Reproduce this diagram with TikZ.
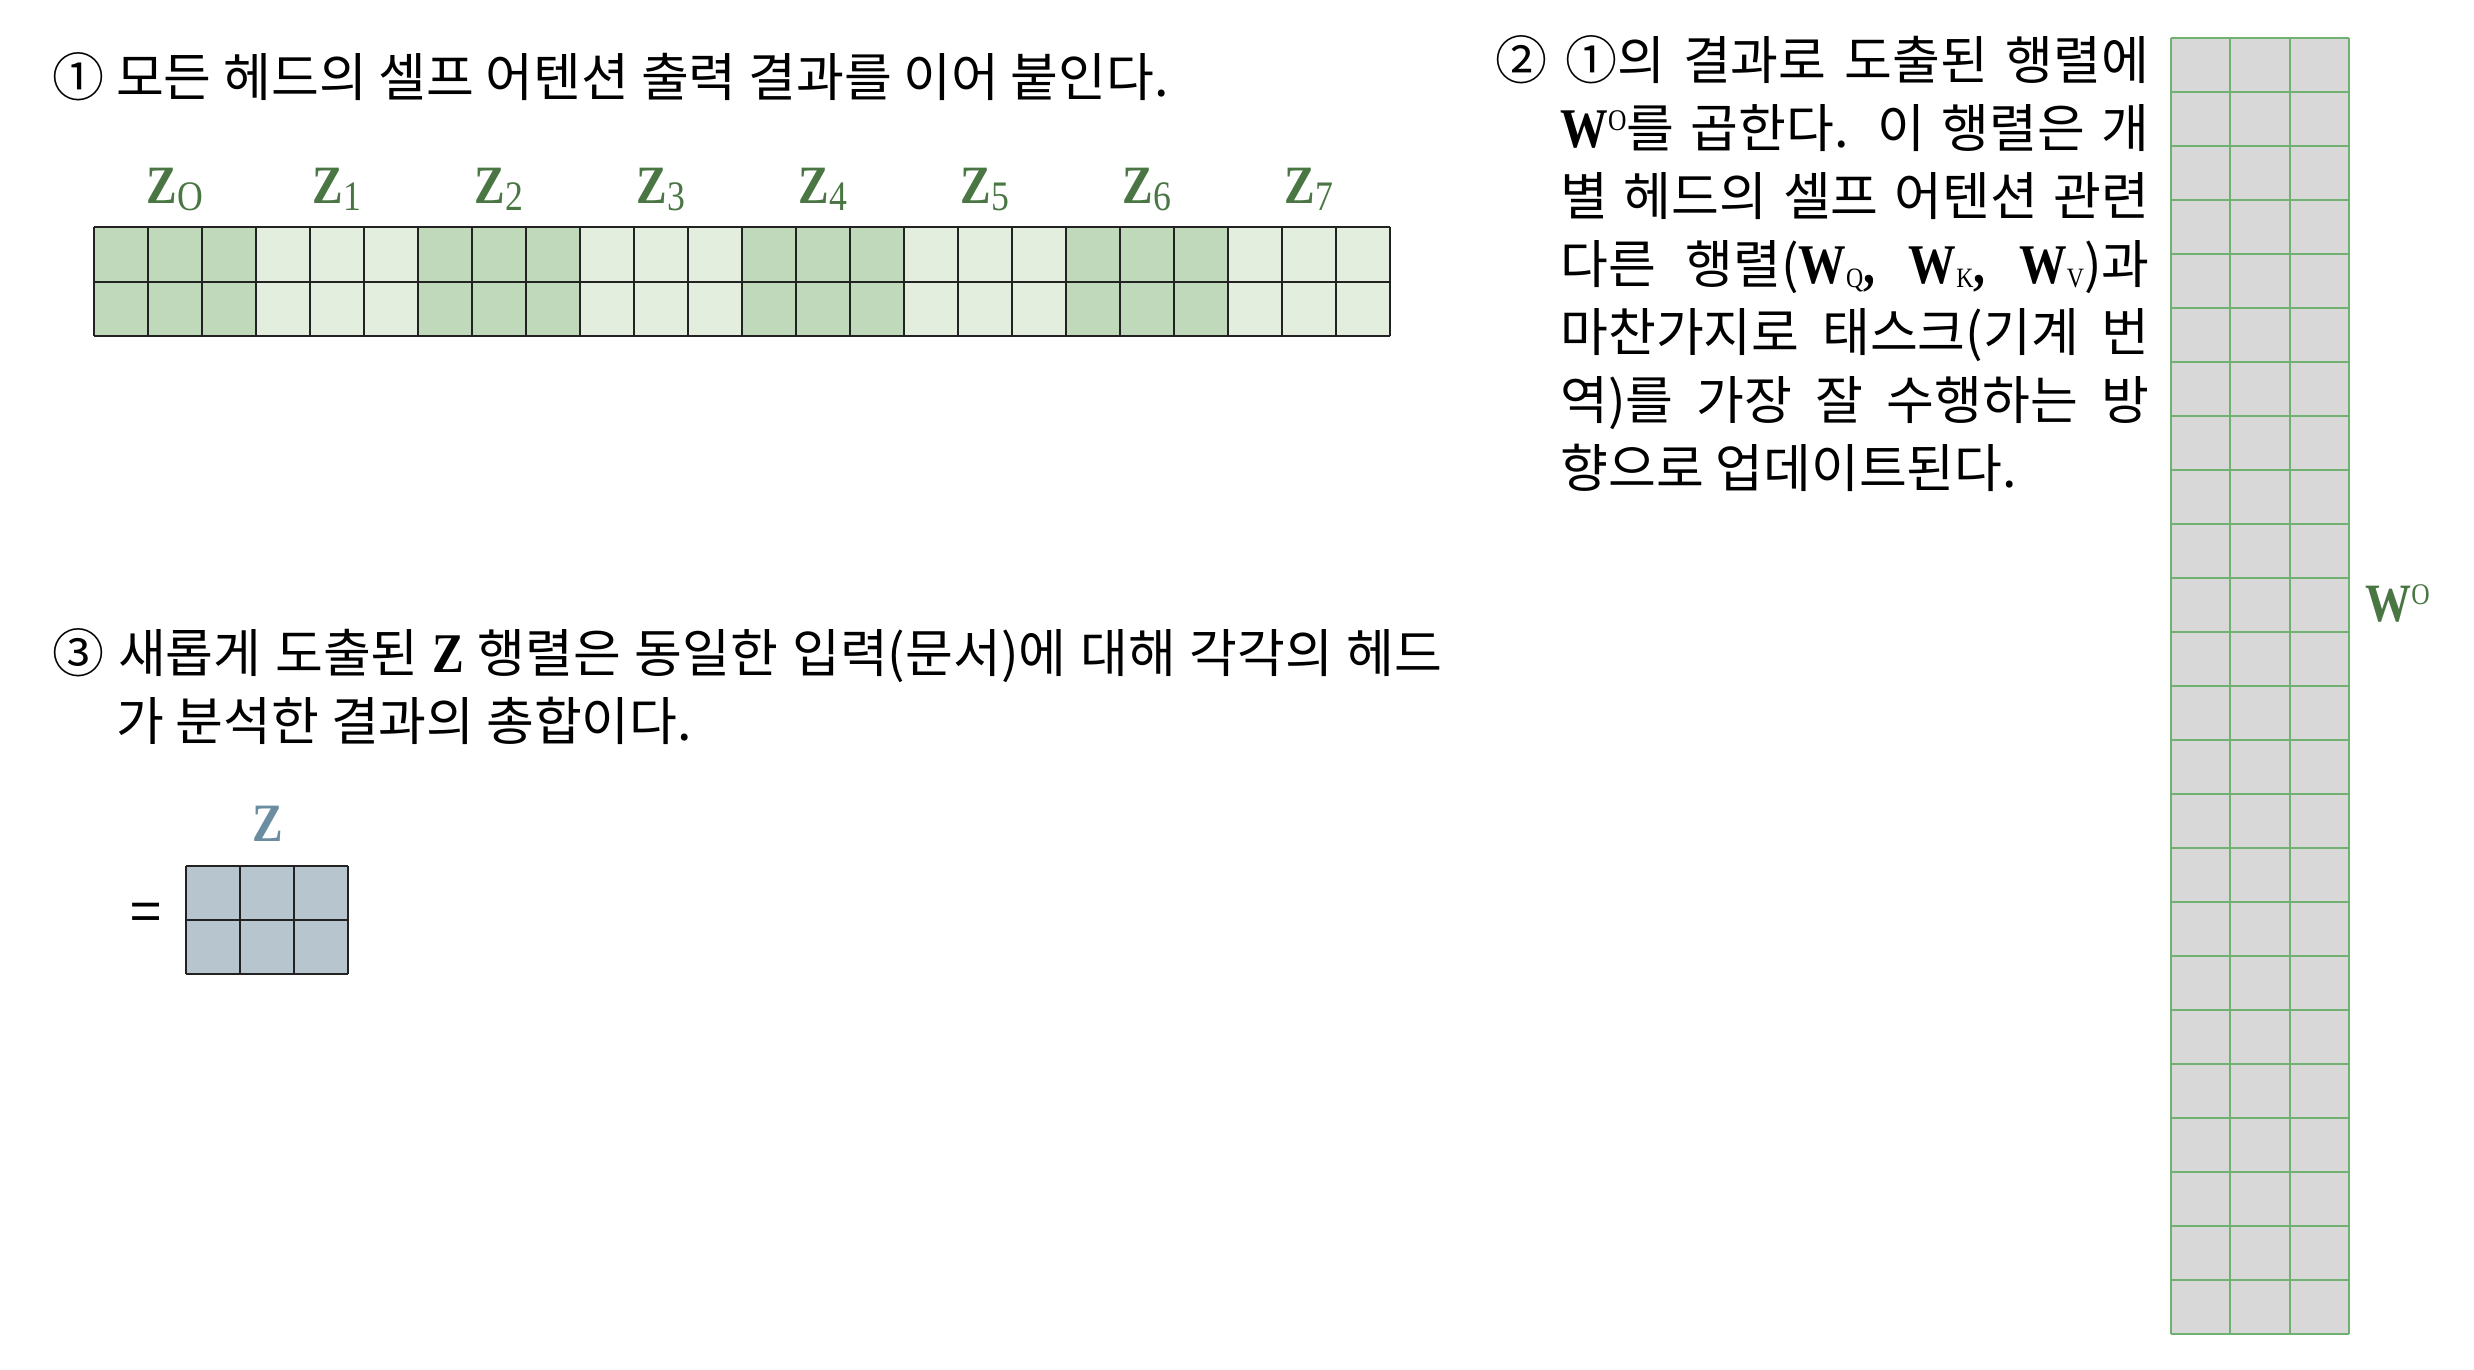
\documentclass[tikz,border=0pt]{standalone}
\usepackage{fontspec}
\setmainfont{Noto Sans CJK KR}
\newfontfamily\lserif[FakeStretch=0.85]{Liberation Serif}

\definecolor{headdark}{RGB}{192,217,186}
\definecolor{headlight}{RGB}{227,238,223}
\definecolor{zgreen}{RGB}{74,118,68}
\definecolor{zblue}{RGB}{106,141,160}
\definecolor{zfill}{RGB}{182,197,206}
\definecolor{wofill}{RGB}{216,216,216}
\definecolor{wogreen}{RGB}{112,176,112}
\definecolor{gridblack}{RGB}{34,34,34}

\newcommand\zsub[1]{{\mdseries\fontsize{21pt}{21pt}\selectfont\raisebox{-3.5pt}{#1}}}
\newcommand\bigW{{\lserif\bfseries\fontsize{28pt}{34pt}\selectfont W}}
\newcommand\bigZ{{\lserif\bfseries\fontsize{28pt}{34pt}\selectfont Z}}
\newcommand\bcomma{{\lserif\bfseries\fontsize{28pt}{34pt}\selectfont,}}
\newcommand\Wsub[1]{\bigW{\lserif\fontsize{14pt}{34pt}\selectfont\raisebox{-2pt}{#1}}}
\newcommand\Wo{\bigW{\lserif\fontsize{15pt}{34pt}\selectfont\raisebox{8.5pt}{O}}}

\begin{document}
\begin{tikzpicture}[x=0.5pt,y=-0.5pt,
    txt/.style={inner sep=0pt,font=\fontsize{26pt}{34pt}\selectfont},
    para/.style={txt,anchor=north west,align=justify},
    headlbl/.style={inner sep=0pt,anchor=base,text=zgreen,
      font=\lserif\bfseries\fontsize{27pt}{27pt}\selectfont},
    cellline/.style={draw=gridblack,line width=1pt},
    wogrid/.style={draw=wogreen,line width=1pt}]
  \useasboundingbox (0,0) rectangle (2474,1370);

  % step 1: concatenated heads
  \node[txt,anchor=base west] (step1) at (52,97)
    {① 모든 헤드의 셀프 어텐션 출력 결과를 이어 붙인다.};
  \foreach \h/\s/\col in {0/O/headdark,1/1/headlight,2/2/headdark,3/3/headlight,
      4/4/headdark,5/5/headlight,6/6/headdark,7/7/headlight} {
    \fill[\col] ({94+162*\h},227) rectangle ++(162,109);
    \node[headlbl] (z\h) at ({175+162*\h},203) {Z\zsub{\s}};
  }
  \foreach \c in {0,...,24}
    \draw[cellline] ({94+54*\c},227) -- ++(0,109);
  \foreach \r in {227,281.5,336}
    \draw[cellline] (94,\r) -- (1390,\r);

  % step 2: output weight matrix
  \node[para,text width=327pt] (step2) at (1495,35)
    {\tolerance=10000\hangindent=32.5pt\hangafter=1
     ② ①의 결과로 도출된 행렬에\linebreak
     \Wo 를 곱한다. 이 행렬은 개\linebreak
     별 헤드의 셀프 어텐션 관련\linebreak
     다른 행렬(\Wsub{Q}\bcomma{} \Wsub{K}\bcomma{} \Wsub{V})과\linebreak
     마찬가지로 태스크(기계 번\linebreak
     역)를 가장 잘 수행하는 방\linebreak
     향으로 업데이트된다.\par};
  \fill[wofill] (2171,38) rectangle (2349,1334);
  \foreach \r in {0,...,24}
    \draw[wogrid] (2171,{38+54*\r}) -- ++(178,0);
  \foreach \c in {0,...,3}
    \draw[wogrid] ({2171+59.333*\c},38) -- ++(0,1296);
  \node[headlbl,anchor=base west] (wolbl) at (2365,621)
    {W{\mdseries\fontsize{15pt}{15pt}\selectfont\raisebox{8.5pt}{O}}};

  % step 3: resulting Z
  \node[para,text width=695pt] (step3) at (52,628)
    {\tolerance=10000\hangindent=32pt\hangafter=1
     ③ 새롭게 도출된 \bigZ{} 행렬은 동일한 입력(문서)에 대해 각각의 헤드\linebreak
     가 분석한 결과의 총합이다.\par};
  \node[headlbl,text=zblue] (zlbl) at (268,841) {Z};
  \node[txt,font=\fontsize{28pt}{28pt}\selectfont] (eq) at (146,918) {=};
  \fill[zfill] (186,866) rectangle (348,974);
  \foreach \c in {0,...,3}
    \draw[cellline] ({186+54*\c},866) -- ++(0,108);
  \foreach \r in {866,920,974}
    \draw[cellline] (186,\r) -- (348,\r);
\end{tikzpicture}
\end{document}
